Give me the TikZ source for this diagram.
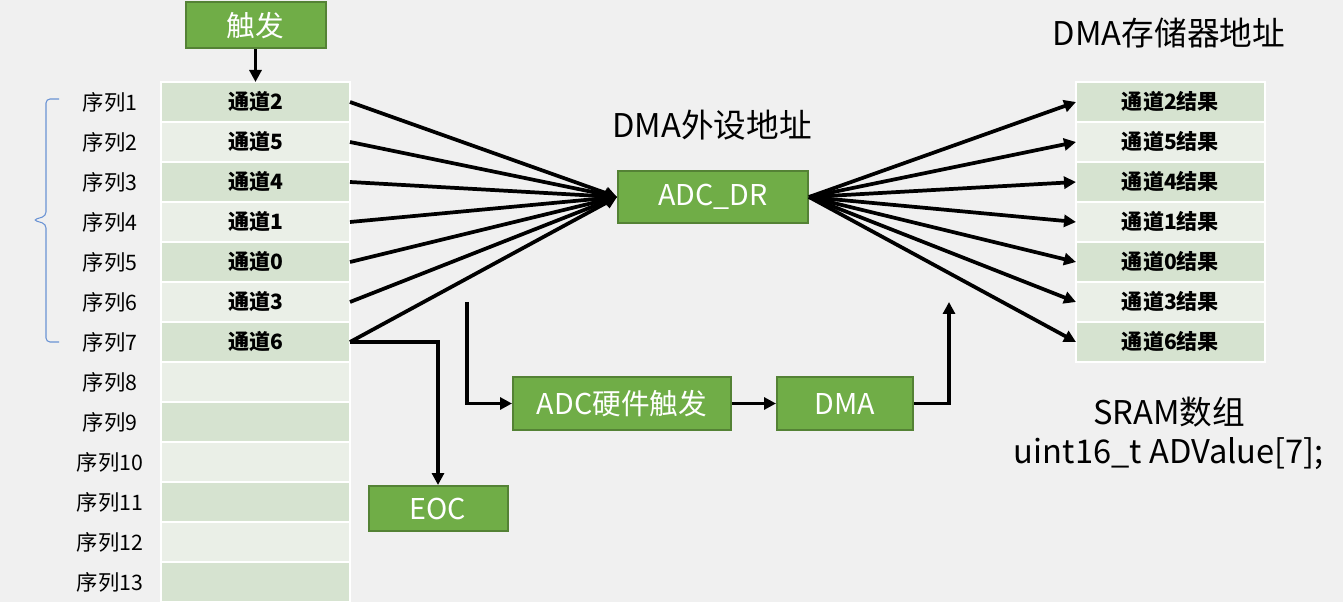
\documentclass[tikz,border=0pt]{standalone}
\usepackage{fontspec}
\setmainfont{Noto Sans CJK SC}
\usetikzlibrary{positioning, arrows.meta}

\definecolor{bggray}{HTML}{F0F0F0}
\definecolor{boxgreen}{HTML}{70AD47}
\definecolor{boxedge}{HTML}{548235}
\definecolor{rowdark}{HTML}{D6E3D0}
\definecolor{rowlight}{HTML}{EAEFE7}
\definecolor{braceblue}{HTML}{6A93D4}

\begin{document}
\begin{tikzpicture}[x=0.75pt, y=-0.75pt, node distance=0pt,
	greenbox/.style={rectangle, text centered, fill=boxgreen, draw=boxedge, line width=1.5pt, text=white, font=\fontsize{21.5}{25}\selectfont},
	rowcell/.style={rectangle, text centered, draw=white, line width=1.2pt, outer sep=0pt, minimum height=30pt, minimum width=141.75pt, font=\fontsize{15.8}{18}\selectfont\bfseries},
	celldark/.style={rowcell, fill=rowdark},
	celllight/.style={rowcell, fill=rowlight},
	seqlabel/.style={font=\fontsize{16}{18}\selectfont},
	heading/.style={font=\fontsize{24.5}{29}\selectfont},
	wire/.style={line width=2.8pt, -{Triangle[length=9pt, width=9pt]}},
	bracket/.style={draw=braceblue, line width=0.8pt, rounded corners=3pt}]
	\fill[bggray] (0,0) rectangle (1343,602);
	\useasboundingbox (0,0) rectangle (1343,602);

	\node[greenbox, minimum width=105pt, minimum height=34.5pt] (trig) at (255.5,25.5) {触发};

	\node[celldark] (a1) at (255.5,102) {通道2};
	\node[celllight] (a2) [below=of a1] {通道5};
	\node[celldark] (a3) [below=of a2] {通道4};
	\node[celllight] (a4) [below=of a3] {通道1};
	\node[celldark] (a5) [below=of a4] {通道0};
	\node[celllight] (a6) [below=of a5] {通道3};
	\node[celldark] (a7) [below=of a6] {通道6};
	\node[celllight] (a8) [below=of a7] {};
	\node[celldark] (a9) [below=of a8] {};
	\node[celllight] (a10) [below=of a9] {};
	\node[celldark] (a11) [below=of a10] {};
	\node[celllight] (a12) [below=of a11] {};
	\node[celldark] (a13) [below=of a12] {};

	\node[seqlabel] (s1) at (110,102) {序列1};
	\node[seqlabel] (s2) at (110,142) {序列2};
	\node[seqlabel] (s3) at (110,182) {序列3};
	\node[seqlabel] (s4) at (110,222) {序列4};
	\node[seqlabel] (s5) at (110,262) {序列5};
	\node[seqlabel] (s6) at (110,302) {序列6};
	\node[seqlabel] (s7) at (110,342) {序列7};
	\node[seqlabel] (s8) at (110,382) {序列8};
	\node[seqlabel] (s9) at (110,422) {序列9};
	\node[seqlabel] (s10) at (110,462) {序列10};
	\node[seqlabel] (s11) at (110,502) {序列11};
	\node[seqlabel] (s12) at (110,542) {序列12};
	\node[seqlabel] (s13) at (110,582) {序列13};

	\node[greenbox, minimum width=142.5pt, minimum height=39pt] (adcdr) at (713,197) {ADC\_DR};
	\node[heading] (periph) at (712,125) {DMA外设地址};

	\node[celldark] (b1) at (1170.5,102) {通道2结果};
	\node[celllight] (b2) [below=of b1] {通道5结果};
	\node[celldark] (b3) [below=of b2] {通道4结果};
	\node[celllight] (b4) [below=of b3] {通道1结果};
	\node[celldark] (b5) [below=of b4] {通道0结果};
	\node[celllight] (b6) [below=of b5] {通道3结果};
	\node[celldark] (b7) [below=of b6] {通道6结果};
	\node[heading] (memaddr) at (1169,33) {DMA存储器地址};
	\node[heading, align=center] (sram) at (1169,433.5) {SRAM数组\\uint16\_t ADValue[7];};

	\node[greenbox, minimum width=163.5pt, minimum height=39.75pt] (hwtrig) at (622,403.5) {ADC硬件触发};
	\node[greenbox, minimum width=102pt, minimum height=39.75pt] (dma) [right=33pt of hwtrig] {DMA};
	\node[greenbox, minimum width=104.25pt, minimum height=33.75pt] (eoc) at (438,508.5) {EOC};

	\coordinate (hwstart) at (467,302);
	\coordinate (dmaend) at (949,302);

	\draw[wire] (trig.south) -- (a1.north);
	\draw[wire] (a1.east) -- (adcdr.west);
	\draw[wire] (a2.east) -- (adcdr.west);
	\draw[wire] (a3.east) -- (adcdr.west);
	\draw[wire] (a4.east) -- (adcdr.west);
	\draw[wire] (a5.east) -- (adcdr.west);
	\draw[wire] (a6.east) -- (adcdr.west);
	\draw[wire] (a7.east) -- (adcdr.west);
	\draw[wire] (adcdr.east) -- (b1.west);
	\draw[wire] (adcdr.east) -- (b2.west);
	\draw[wire] (adcdr.east) -- (b3.west);
	\draw[wire] (adcdr.east) -- (b4.west);
	\draw[wire] (adcdr.east) -- (b5.west);
	\draw[wire] (adcdr.east) -- (b6.west);
	\draw[wire] (adcdr.east) -- (b7.west);
	\draw[wire] (a7.east) -| (eoc.north);
	\draw[wire] (hwstart) |- (hwtrig.west);
	\draw[wire] (hwtrig.east) -- (dma.west);
	\draw[wire] (dma.east) -| (dmaend);

	\draw[bracket] (59,99) -- (46,99) -- (46,216) -- (33,220) -- (46,224) -- (46,342) -- (59,342);
\end{tikzpicture}
\end{document}
